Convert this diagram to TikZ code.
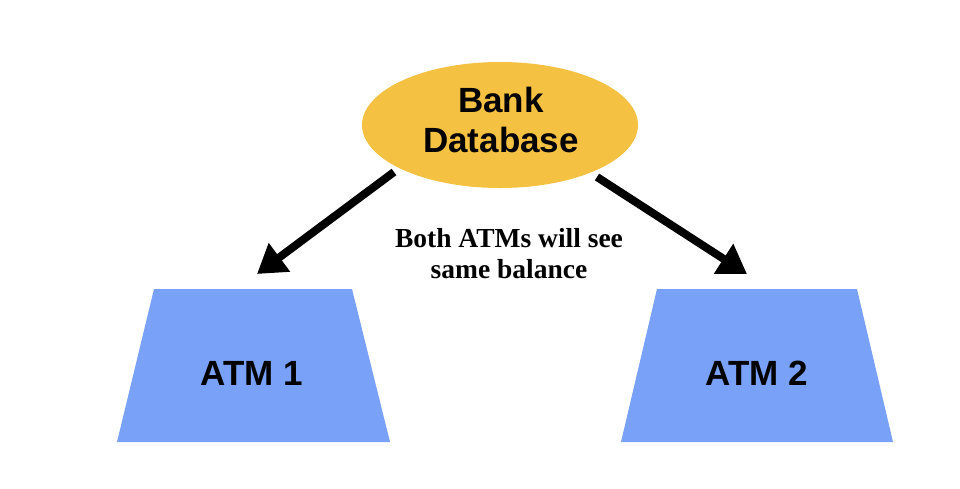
\documentclass[tikz,border=0pt]{standalone}
\usepackage{fontspec}
\setmainfont{Liberation Serif}
\setsansfont{Liberation Sans}
\usetikzlibrary{shapes.geometric,arrows.meta}
\definecolor{dbfill}{HTML}{F5C142}
\definecolor{atmfill}{HTML}{79A1F8}
\tikzset{
  dbnode/.style={ellipse, fill=dbfill, minimum width=276pt, minimum height=126pt, inner sep=0pt},
  dblabel/.style={inner sep=0pt, align=center, font=\sffamily\bfseries\fontsize{35}{40}\selectfont},
  atmlabel/.style={inner sep=0pt, font=\sffamily\bfseries\fontsize{35}{40}\selectfont},
  conn/.style={line width=8pt, -{Triangle[length=28pt,width=34pt]}},
  notetext/.style={align=center, font=\rmfamily\bfseries\fontsize{27.5}{31}\selectfont}
}
\begin{document}
\begin{tikzpicture}[x=1pt,y=-1pt]
\useasboundingbox (0,0) rectangle (960,488);
\node[dbnode] (db) at (500,125) {};
\node[dblabel] (dbtext) at (501,120) {Bank\\Database};
\fill[atmfill] (154,289) -- (352,289) -- (390,442) -- (117,442) -- cycle;
\fill[atmfill] (657,289) -- (857,289) -- (893,442) -- (621,442) -- cycle;
\node[atmlabel] (atm1) at (252,373) {ATM 1};
\node[atmlabel] (atm2) at (757,373) {ATM 2};
\coordinate (t1) at (257,274);
\coordinate (t2) at (747,274);
\coordinate (s1) at (394,172);
\coordinate (s2) at (597,177);
\draw[conn] (s1) -- (t1);
\draw[conn] (s2) -- (t2);
\node[notetext] (note) at (509,254) {Both ATMs will see\\same balance};
\end{tikzpicture}
\end{document}
